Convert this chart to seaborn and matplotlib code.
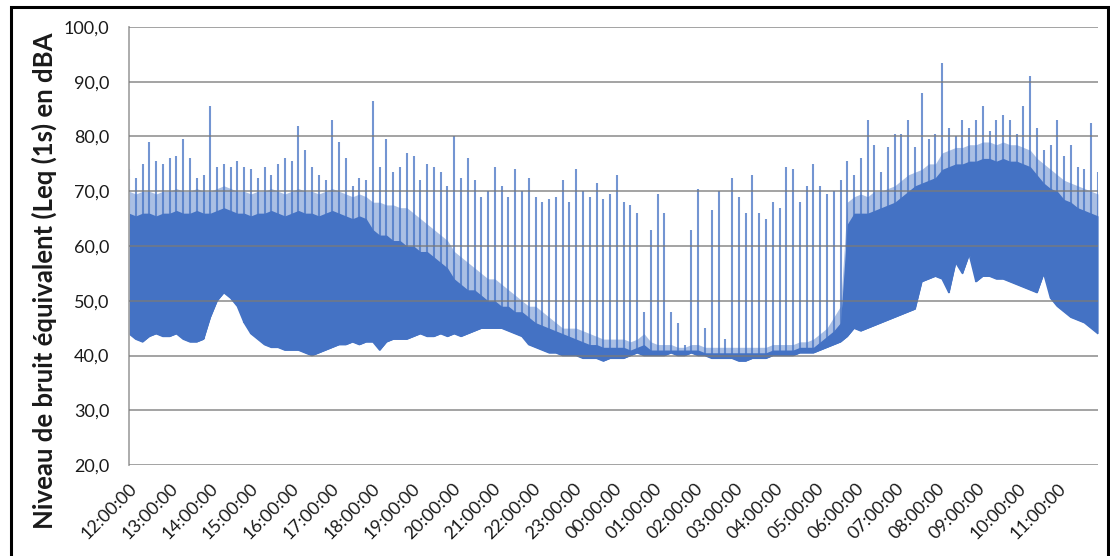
#!/usr/bin/env python3
# -*- coding: utf-8 -*-
'''
Niveau de bruit Leq (1s) sur 24 h, 12:00 -> 12:00
values read per 10 min: lower edge, dense core top, light fringe top, peak
'''

import numpy as np
import matplotlib
matplotlib.use('Agg')
import matplotlib.pyplot as plt
import matplotlib.ticker as ticker
from matplotlib.patches import Rectangle
import seaborn as sns

# --------------------
# DATA (dBA, one value per 10 min, 6 per hour, starting 12:00)
# --------------------
hour_labels = ['12:00:00', '13:00:00', '14:00:00', '15:00:00', '16:00:00', '17:00:00',
               '18:00:00', '19:00:00', '20:00:00', '21:00:00', '22:00:00', '23:00:00',
               '00:00:00', '01:00:00', '02:00:00', '03:00:00', '04:00:00', '05:00:00',
               '06:00:00', '07:00:00', '08:00:00', '09:00:00', '10:00:00', '11:00:00']

low = [44, 43, 42.5, 43.5, 44, 43.5,
       43.5, 44, 43, 42.5, 42.5, 43,
       47, 50, 51.5, 50.5, 49, 46,
       44, 43, 42, 41.5, 41.5, 41,
       41, 41, 40.5, 40, 40.5, 41,
       41.5, 42, 42, 42.5, 42, 42.5,
       42.5, 41, 42.5, 43, 43, 43,
       43.5, 44, 43.5, 43.5, 44, 43.5,
       44, 43.5, 44, 44.5, 45, 45,
       45, 45, 44.5, 44, 43.5, 42,
       41.5, 41, 40.5, 40.5, 40, 40,
       40, 39.5, 39.5, 39.5, 39, 39.5,
       39.5, 39.5, 40, 40.5, 40, 40,
       40, 40, 40.5, 40, 40, 40.5,
       40, 40, 39.5, 39.5, 39.5, 39.5,
       39, 39, 39.5, 39.5, 39.5, 40,
       40, 40, 40, 40.5, 40.5, 40.5,
       41, 41.5, 42, 42.5, 43.5, 45,
       44.5, 45, 45.5, 46, 46.5, 47,
       47.5, 48, 48.5, 53.5, 54, 54.5,
       54, 51.5, 57, 55, 58.5, 53.5,
       54.5, 54.5, 54, 54, 53.5, 53,
       52.5, 52, 51.5, 55, 50.5, 49,
       48, 47, 46.5, 46, 45, 44]

core = [66, 65.5, 66, 66, 65.5, 66,
        66, 66.5, 66, 66, 66.5, 66,
        66, 66.5, 67, 66.5, 66, 66,
        65.5, 66, 66, 66.5, 66, 65.5,
        66, 66.5, 66, 66, 65.5, 66,
        66.5, 66, 65.5, 65, 65.5, 65,
        63, 62, 62, 61, 61, 60,
        60, 59, 59, 58, 57, 56,
        54, 53, 52, 52, 51, 50,
        50, 49, 49, 48, 48, 47,
        46, 45.5, 45, 44.5, 44, 43.5,
        43, 42.5, 42, 42, 41.5, 41.5,
        41.5, 41.5, 41, 41.5, 42, 41,
        41, 41, 41, 41, 41, 41,
        41, 40.5, 40.5, 40.5, 40.5, 40.5,
        40.5, 40.5, 40.5, 40.5, 40.5, 41,
        41, 41, 41, 41.5, 41.5, 41.5,
        42.5, 43.5, 44.5, 46, 64, 66,
        66, 66, 66.5, 67, 67.5, 68,
        69, 70, 71, 71.5, 72, 72.5,
        74, 74.5, 75, 75, 75.5, 75.5,
        76, 76, 75.5, 76, 75.5, 75.5,
        75, 74.5, 73, 71.5, 70.5, 70,
        68.5, 68, 67, 66.5, 66, 65.5]

fringe = [70, 69.5, 70, 70, 69.5, 70,
          70, 70.5, 70, 70, 70.5, 70,
          70, 70.5, 71, 70.5, 70, 70,
          69.5, 70, 70, 70.5, 70, 69.5,
          70, 70.5, 70, 70, 69.5, 70,
          70.5, 70, 69.5, 69, 69.5, 69,
          68, 68, 67.5, 67.5, 67, 67,
          66, 65, 64, 63, 62, 61,
          59, 58, 57, 56, 55, 54,
          54, 53, 52, 51, 50, 49,
          49, 48, 47, 46, 45, 45,
          45, 44.5, 44, 43.5, 43, 43,
          43, 43, 42.5, 43, 44, 42.5,
          42, 42, 42, 41.5, 41.5, 42,
          42, 41.5, 41.5, 41.5, 41.5, 41.5,
          41.5, 41.5, 41.5, 41.5, 41.5, 42,
          42, 42, 42, 42.5, 42.5, 43,
          44, 45, 47, 49, 68, 69,
          69.5, 69, 70, 70, 70.5, 71,
          72, 73, 73.5, 74, 75, 75,
          77, 77.5, 78, 78, 78.5, 78.5,
          79, 79, 78.5, 79, 78.5, 78.5,
          78, 77.5, 76, 75, 74, 73,
          72, 71.5, 71, 70.5, 70, 69.5]

peak = [74, 72.5, 75, 79, 75.5, 75,
        76, 76.5, 79.5, 76, 72.5, 73,
        85.5, 74.5, 75, 74.5, 75.5, 74.5,
        74, 72.5, 74.5, 73, 75, 76,
        75.5, 82, 77.5, 74.5, 73, 72,
        83, 79, 76, 71, 72.5, 72,
        86.5, 74.5, 79.5, 73.5, 74.5, 77,
        76.5, 72, 75, 74.5, 73.5, 71,
        80, 72.5, 76, 72, 69, 70,
        74.5, 71, 69, 74, 70, 72.5,
        69, 68, 68.5, 69, 72, 68,
        74, 70, 69, 71.5, 68.5, 69.5,
        73, 68, 67.5, 66, 48, 63,
        69.5, 66, 48, 46, 42, 63,
        70.5, 45, 66.5, 70, 43, 72.5,
        69, 66, 73, 66, 65, 68,
        67, 74.5, 74, 68, 71, 75,
        71, 69.5, 70, 72, 75.5, 73,
        76, 83, 78.5, 73.5, 78, 80.5,
        80.5, 83, 78, 88, 79.5, 80.5,
        93.5, 81.5, 80, 83, 81.5, 83,
        85.5, 81, 83, 84, 83, 80.5,
        85.5, 91, 81.5, 77.5, 78.5, 83,
        76.5, 78.5, 74.5, 74, 82.5, 73.5]

y_ticks = [20, 30, 40, 50, 60, 70, 80, 90, 100]
ylabel = 'Niveau de bruit équivalent (Leq (1s) en dBA'

# --------------------
# PLOT
# --------------------
sns.set_theme(style='white')
plt.rcParams['font.family'] = ['Lato', 'DejaVu Sans']

blue = '#4472C4'
grid_col = '#7a7a7a'
t = np.linspace(0, 24, len(low))

fig = plt.figure(figsize=(11.10, 5.56), dpi=100)
ax = fig.add_axes([129 / 1110, 1 - 465 / 556, 969 / 1110, 438 / 556])

ax.fill_between(t, low, fringe, color=blue, alpha=0.45, lw=0)
ax.fill_between(t, low, core, color=blue, lw=0)
ax.vlines(t, low, peak, color=blue, lw=1.5, alpha=0.75)
sns.lineplot(x=t, y=low, ax=ax, color=blue, lw=1.2)

ax.set_xlim(0, 24)
ax.set_ylim(20, 100)
ax.set_yticks(y_ticks)
ax.yaxis.set_major_formatter(ticker.FuncFormatter(lambda v, p: '{:.1f}'.format(v).replace('.', ',')))
ax.set_xticks(range(24))
ax.set_xticklabels(hour_labels, rotation=45, ha='right', va='top', rotation_mode='anchor')

ax.set_axisbelow(False)
ax.grid(axis='y', color=grid_col, lw=1.3, alpha=0.75)
ax.grid(axis='x', visible=False)
for s in ['top', 'right', 'bottom']:
    ax.spines[s].set_visible(False)
ax.spines['left'].set_color('#a6a6a6')
ax.spines['left'].set_linewidth(1.3)
ax.tick_params(axis='both', length=0, labelsize=13, colors='#1a1a1a')
ax.tick_params(axis='y', pad=14)
ax.tick_params(axis='x', pad=11)
ax.set_xlabel('')
ax.set_ylabel('')

fig.text(44 / 1110, 1 - 281 / 556, ylabel, rotation=90, ha='center', va='center',
         fontsize=18.5, fontweight='bold', color='#1a1a1a')

# border round the whole chart
fig.patches.append(Rectangle((11 / 1110, -0.01), 1097 / 1110, 1 - 7 / 556 + 0.01,
                             transform=fig.transFigure, fill=False, ec='black', lw=2.2))

fig.savefig('out.png', dpi=100)
plt.close()
